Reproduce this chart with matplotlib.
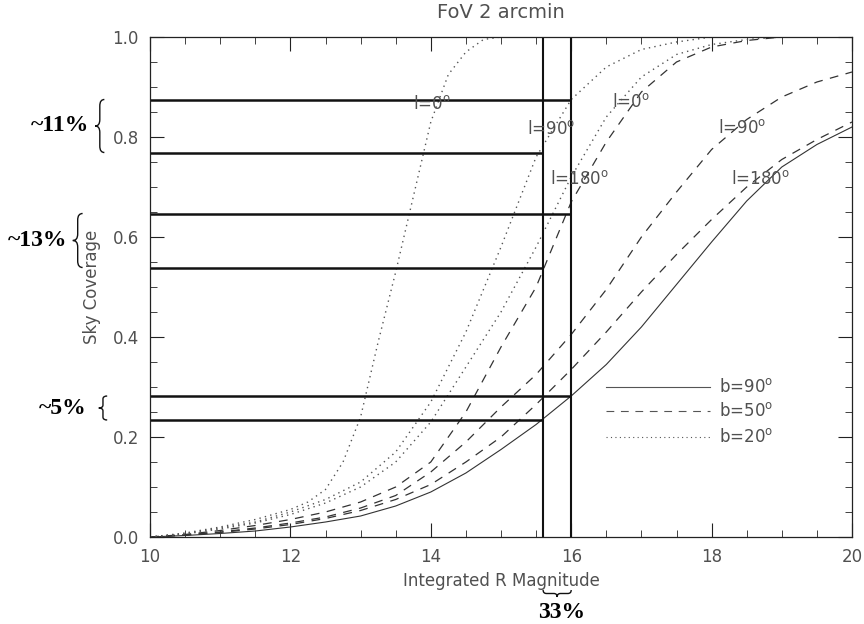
import numpy as np
import matplotlib
matplotlib.use("Agg")
import matplotlib.pyplot as plt
from matplotlib.path import Path
from matplotlib.patches import PathPatch

plt.rcParams['mathtext.fontset'] = 'dejavusans'

mag = [10, 10.5, 11, 11.5, 12, 12.5, 13, 13.5, 14, 14.5, 15, 15.5, 16,
       16.5, 17, 17.5, 18, 18.5, 19, 19.5, 20]

# b = 90 deg (solid)
b90 = [0.0, 0.003, 0.007, 0.012, 0.02, 0.03, 0.042, 0.062, 0.09, 0.128, 0.175,
       0.225, 0.282, 0.345, 0.42, 0.505, 0.59, 0.672, 0.74, 0.785, 0.82]

# b = 50 deg (dashed), l = 0, 90, 180
b50_l0 = [0.0, 0.005, 0.013, 0.023, 0.035, 0.05, 0.07, 0.1, 0.15, 0.25, 0.38,
          0.5, 0.67, 0.79, 0.89, 0.95, 0.98, 0.993, 1.0, 1.0, 1.0]
b50_l90 = [0.0, 0.004, 0.01, 0.018, 0.028, 0.04, 0.058, 0.083, 0.13, 0.19, 0.26,
           0.325, 0.405, 0.495, 0.6, 0.69, 0.775, 0.835, 0.88, 0.91, 0.93]
b50_l180 = [0.0, 0.004, 0.009, 0.016, 0.025, 0.037, 0.053, 0.075, 0.105, 0.15, 0.2,
            0.265, 0.335, 0.41, 0.49, 0.565, 0.635, 0.7, 0.755, 0.795, 0.83]

# b = 20 deg (dotted), l = 0 sampled finer
mag_fine = [10, 10.5, 11, 11.5, 12, 12.25, 12.5, 12.75, 13, 13.25, 13.5, 13.75,
            14, 14.25, 14.5, 14.75, 15, 16, 17, 18, 19, 20]
b20_l0 = [0.0, 0.008, 0.02, 0.035, 0.055, 0.07, 0.095, 0.15, 0.24, 0.39, 0.53,
          0.68, 0.83, 0.925, 0.97, 0.995, 1.0, 1.0, 1.0, 1.0, 1.0, 1.0]
b20_l90 = [0.0, 0.007, 0.018, 0.03, 0.05, 0.075, 0.11, 0.17, 0.27, 0.41, 0.58,
           0.76, 0.875, 0.94, 0.975, 0.99, 1.0, 1.0, 1.0, 1.0, 1.0]
b20_l180 = [0.0, 0.006, 0.016, 0.028, 0.045, 0.068, 0.1, 0.15, 0.23, 0.34, 0.45,
            0.58, 0.72, 0.84, 0.92, 0.965, 0.985, 0.995, 1.0, 1.0, 1.0]

# reference lines: coverage levels and limiting magnitudes
hline_vals = [0.875, 0.769, 0.647, 0.539, 0.282, 0.234]
hline_ends = [16.0, 15.6, 16.0, 15.6, 16.0, 15.6]
vline_mags = [15.6, 16.0]

pair_labels = ['~11%', '~13%', '~5%']
mag_label = '33%'

legend_labels = ['b=90', 'b=50', 'b=20']
legend_y = [0.30, 0.252, 0.20]

curve_labels = ['l=0', 'l=90', 'l=180', 'l=0', 'l=90', 'l=180']
curve_label_x = [14.02, 15.72, 16.12, 16.85, 18.43, 18.7]
curve_label_y = [0.866, 0.815, 0.717, 0.870, 0.818, 0.717]

fig = plt.figure(figsize=(8.64, 6.24), dpi=100)
ax = fig.add_axes([150/864, 87/624, 702/864, 500/624])

tc = '#505050'
dash_style = (0, (7, 6))
dot_style = (0, (1, 3))

ax.plot(mag, b90, color='#333333', lw=0.8, ls='-')
for s in (b50_l0, b50_l90, b50_l180):
    ax.plot(mag, s, color='#333333', lw=0.9, ls=dash_style)
ax.plot(mag_fine, b20_l0, color='#555555', lw=1.0, ls=dot_style)
for s in (b20_l90, b20_l180):
    ax.plot(mag, s, color='#555555', lw=1.0, ls=dot_style)

for v, e in zip(hline_vals, hline_ends):
    ax.plot([10, e], [v, v], color='#111111', lw=1.8, solid_capstyle='butt')
for m in vline_mags:
    ax.plot([m, m], [0, 1], color='#111111', lw=1.5)

# legend (drawn as in original)
leg_styles = ['-', dash_style, dot_style]
for lab, y, st in zip(legend_labels, legend_y, leg_styles):
    ax.plot([16.5, 17.98], [y, y], color='#555555', lw=0.8, ls=st)
    ax.text(18.1, y, lab + r'$^{\mathrm{o}}$', fontsize=12, color=tc,
            va='center', ha='left')

for lab, x, y in zip(curve_labels, curve_label_x, curve_label_y):
    ax.text(x, y, lab + r'$^{\mathrm{o}}$', fontsize=12, color=tc,
            ha='center', va='center')

ax.set_xlim(10, 20)
ax.set_ylim(0, 1.0)
ax.set_xticks([10, 12, 14, 16, 18, 20])
ax.set_xticks(np.arange(10, 20.01, 0.5), minor=True)
ax.set_yticks([0.0, 0.2, 0.4, 0.6, 0.8, 1.0])
ax.set_yticks(np.arange(0, 1.001, 0.05), minor=True)
ax.set_yticklabels(['0.0', '0.2', '0.4', '0.6', '0.8', '1.0'])
ax.tick_params(which='both', direction='in', top=True, right=True,
               labelsize=12, labelcolor=tc, color='#222222')
ax.tick_params(which='major', length=10, width=0.8, pad=8)
ax.tick_params(which='minor', length=5, width=0.6)
for sp in ax.spines.values():
    sp.set_linewidth(0.9)
    sp.set_color('#222222')

ax.set_xlabel('Integrated R Magnitude', fontsize=12, color=tc, labelpad=4)
ax.set_ylabel('Sky Coverage', fontsize=12, color=tc, labelpad=8)
ax.set_title('FoV 2 arcmin', fontsize=14, color=tc, pad=14)


def brace_v(ax, xtip, y0, y1, w, lw=1.0):
    xm = xtip + w / 2
    xe = xtip + w
    ym = (y0 + y1) / 2
    r = (y1 - y0) * 0.12
    verts = [(xe, y1), (xm, y1), (xm, y1 - r),
             (xm, ym + r),
             (xm, ym), (xtip, ym),
             (xm, ym), (xm, ym - r),
             (xm, y0 + r),
             (xm, y0), (xe, y0)]
    codes = [Path.MOVETO, Path.CURVE3, Path.CURVE3,
             Path.LINETO,
             Path.CURVE3, Path.CURVE3,
             Path.CURVE3, Path.CURVE3,
             Path.LINETO,
             Path.CURVE3, Path.CURVE3]
    ax.add_patch(PathPatch(Path(verts, codes), fill=False, lw=lw,
                           color='#111111', clip_on=False))


def brace_h(ax, x0, x1, ytip, h, lw=1.0):
    ym = ytip + h / 2
    ye = ytip + h
    xm = (x0 + x1) / 2
    r = (x1 - x0) * 0.12
    verts = [(x0, ye), (x0, ym), (x0 + r, ym),
             (xm - r, ym),
             (xm, ym), (xm, ytip),
             (xm, ym), (xm + r, ym),
             (x1 - r, ym),
             (x1, ym), (x1, ye)]
    codes = [Path.MOVETO, Path.CURVE3, Path.CURVE3,
             Path.LINETO,
             Path.CURVE3, Path.CURVE3,
             Path.CURVE3, Path.CURVE3,
             Path.LINETO,
             Path.CURVE3, Path.CURVE3]
    ax.add_patch(PathPatch(Path(verts, codes), fill=False, lw=lw,
                           color='#111111', clip_on=False))


brace_x = [9.22, 8.90, 9.27]
brace_w = [0.13, 0.14, 0.12]
text_x = [8.72, 8.40, 8.75]
for i in range(3):
    hi, lo = hline_vals[2 * i], hline_vals[2 * i + 1]
    brace_v(ax, brace_x[i], lo, hi, brace_w[i])
    ax.text(text_x[i], (hi + lo) / 2, pair_labels[i], fontsize=17,
            fontweight='bold', family='Liberation Serif', ha='center',
            va='center', color='black', clip_on=False)

brace_h(ax, vline_mags[0], vline_mags[1], -0.12, 0.014)
ax.text(sum(vline_mags) / 2 + 0.06, -0.152, mag_label, fontsize=17,
        fontweight='bold', family='Liberation Serif', ha='center',
        va='center', color='black', clip_on=False)

fig.savefig('out.png', dpi=100)
